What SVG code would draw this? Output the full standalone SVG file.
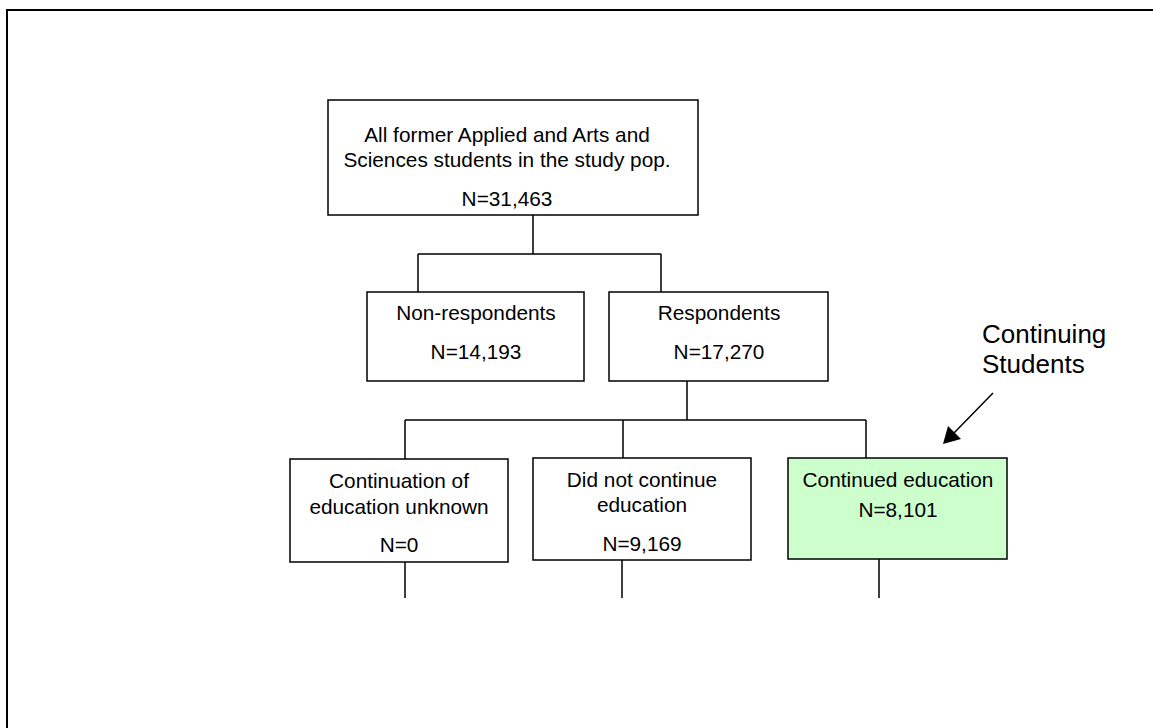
<svg xmlns="http://www.w3.org/2000/svg" width="1153" height="728" viewBox="0 0 1153 728">
<style>
.box{fill:#ffffff;stroke:#000000;stroke-width:1.5}
.green{fill:#ccffcc;stroke:#000000;stroke-width:1.5}
.t{font-family:"Liberation Sans",Arial,sans-serif;font-size:20.8px;fill:#000000;text-anchor:middle}
.big{font-family:"Liberation Sans",Arial,sans-serif;font-size:26px;fill:#000000}
.c{stroke:#000000;stroke-width:1.5;fill:none}
</style>
<rect width="1153" height="728" fill="#ffffff"/>
<rect x="7" y="10" width="1160" height="740" fill="none" stroke="#000000" stroke-width="2"/>
<g id="connectors" class="c">
<path d="M533,215 V254 M418,254 H661 M418,254 V292 M661,254 V292"/>
<path d="M687,381 V420 M405,420 H866 M405,420 V459 M623,420 V458 M866,420 V458"/>
<path d="M405,562 V598 M622,560 V598 M879,559 V598"/>
<path d="M993,393 L953,434"/>
<polygon points="943,444 948,426 961,439" fill="#000000" stroke="none"/>
</g>
<g id="n-all">
<rect class="box" x="328" y="100" width="370" height="115"/>
<text class="t" x="507" y="142">All former Applied and Arts and</text>
<text class="t" x="507" y="167">Sciences students in the study pop.</text>
<text class="t" x="507" y="206">N=31,463</text>
</g>
<g id="n-nonresp">
<rect class="box" x="367" y="292" width="217" height="89"/>
<text class="t" x="476" y="320">Non-respondents</text>
<text class="t" x="476" y="359">N=14,193</text>
</g>
<g id="n-resp">
<rect class="box" x="609" y="292" width="219" height="89"/>
<text class="t" x="719" y="320">Respondents</text>
<text class="t" x="719" y="359">N=17,270</text>
</g>
<g id="n-unknown">
<rect class="box" x="290" y="459" width="218" height="103"/>
<text class="t" x="399" y="488">Continuation of</text>
<text class="t" x="399" y="514">education unknown</text>
<text class="t" x="399" y="552">N=0</text>
</g>
<g id="n-notcont">
<rect class="box" x="533" y="458" width="218" height="102"/>
<text class="t" x="642" y="487">Did not continue</text>
<text class="t" x="642" y="512">education</text>
<text class="t" x="642" y="551">N=9,169</text>
</g>
<g id="n-cont">
<rect class="green" x="788" y="458" width="219" height="101"/>
<text class="t" x="898" y="487">Continued education</text>
<text class="t" x="898" y="517">N=8,101</text>
</g>
<g id="label">
<text class="big" x="982" y="343">Continuing</text>
<text class="big" x="982" y="373">Students</text>
</g>
</svg>
